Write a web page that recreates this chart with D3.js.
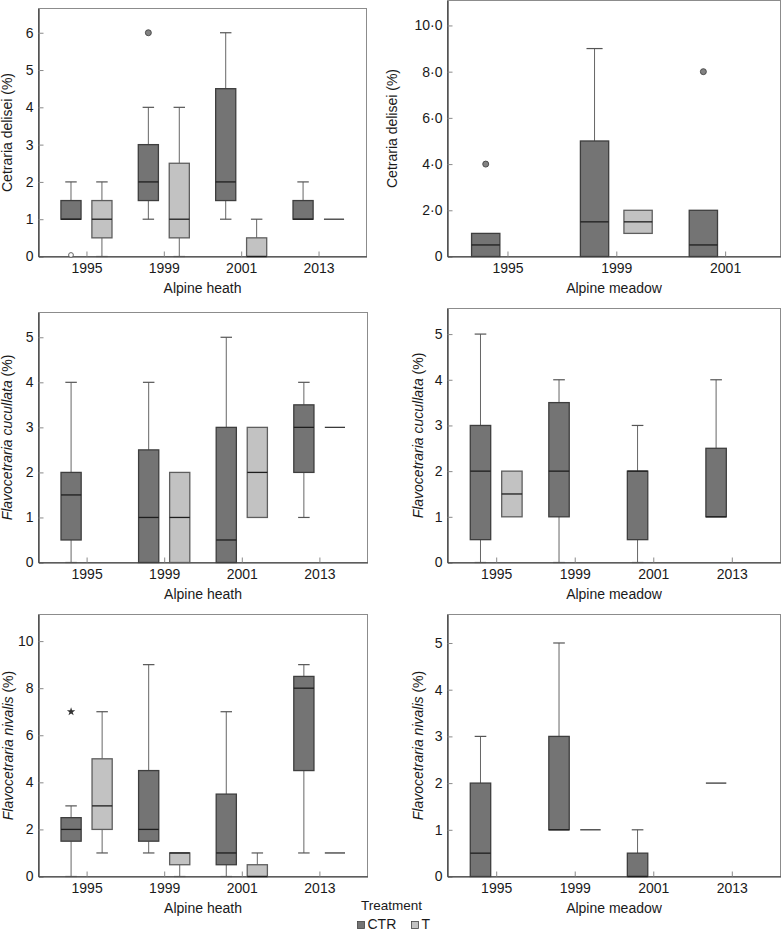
<!DOCTYPE html>
<html><head><meta charset="utf-8">
<script src="https://cdn.jsdelivr.net/npm/d3@7"></script>
<style>body{margin:0;background:#fff}svg{display:block}text{font-family:"Liberation Sans",Arial,Helvetica,sans-serif}</style>
</head><body><svg id="c" width="782" height="930"></svg>
<script>
const years4 = ["1995","1999","2001","2013"];
const years3 = ["1995","1999","2001"];
const treatments = ["CTR","T"];
// [year, treatment, lower whisker, Q1, median, Q3, upper whisker]
const heathCetraria = [
  ["1995","CTR",1,1,1,1.5,2],
  ["1995","T",0,0.5,1,1.5,2],
  ["1999","CTR",1,1.5,2,3,4],
  ["1999","T",0,0.5,1,2.5,4],
  ["2001","CTR",1,1.5,2,4.5,6],
  ["2001","T",0,0,0,0.5,1],
  ["2013","CTR",1,1,1,1.5,2],
  ["2013","T",1,1,1,1,1]
];
const heathCetrariaOut = [["1995","CTR",0,"open"],["1999","CTR",6,"dot"]];
const meadowCetraria = [
  ["1995","CTR",0,0,0.5,1,1],
  ["1999","CTR",0,0,1.5,5,9],
  ["1999","T",1,1,1.5,2,2],
  ["2001","CTR",0,0,0.5,2,2]
];
const meadowCetrariaOut = [["1995","CTR",4,"dot"],["2001","CTR",8,"dot"]];
const heathCucullata = [
  ["1995","CTR",0,0.5,1.5,2,4],
  ["1999","CTR",0,0,1,2.5,4],
  ["1999","T",0,0,1,2,2],
  ["2001","CTR",0,0,0.5,3,5],
  ["2001","T",1,1,2,3,3],
  ["2013","CTR",1,2,3,3.5,4],
  ["2013","T",3,3,3,3,3]
];
const meadowCucullata = [
  ["1995","CTR",0,0.5,2,3,5],
  ["1995","T",1,1,1.5,2,2],
  ["1999","CTR",0,1,2,3.5,4],
  ["2001","CTR",0,0.5,2,2,3],
  ["2013","CTR",1,1,1,2.5,4]
];
const heathNivalis = [
  ["1995","CTR",0,1.5,2,2.5,3],
  ["1995","T",1,2,3,5,7],
  ["1999","CTR",1,1.5,2,4.5,9],
  ["1999","T",0,0.5,1,1,1],
  ["2001","CTR",0,0.5,1,3.5,7],
  ["2001","T",0,0,0,0.5,1],
  ["2013","CTR",1,4.5,8,8.5,9],
  ["2013","T",1,1,1,1,1]
];
const heathNivalisOut = [["1995","CTR",7,"star"]];
const meadowNivalis = [
  ["1995","CTR",0,0,0.5,2,3],
  ["1999","CTR",1,1,1,3,5],
  ["1999","T",1,1,1,1,1],
  ["2001","CTR",0,0,0,0.5,1],
  ["2013","CTR",2,2,2,2,2]
];
const ticks0to6 = [0,1,2,3,4,5,6];
const ticks0to5 = [0,1,2,3,4,5];
const ticks0to10 = [0,2,4,6,8,10];
const ticksMeadowCetrariaLabels = ["0","2·0","4·0","6·0","8·0","10·0"];

const fills = {CTR:"#747474", T:"#c2c2c2"};
const strokes = {CTR:"#3e3e3e", T:"#5e5e5e"};
const svg = d3.select("#c");

const panels = [
  {x0:38.5,x1:366.5,top:8.5,bottom:256.5,ymax:6.65,cats:years4,pad:0.62,align:0.5,
   ticks:ticks0to6,labels:null,species:"Cetraria delisei",italic:false,xTitle:"Alpine heath",ytx:11.5,
   data:heathCetraria,out:heathCetrariaOut},
  {x0:447.5,x1:780.5,top:0.5,bottom:256.5,ymax:11.08,cats:years3,pad:0.53,align:0.52,
   ticks:ticks0to10,labels:ticksMeadowCetrariaLabels,species:"Cetraria delisei",italic:false,xTitle:"Alpine meadow",ytx:396.5,
   data:meadowCetraria,out:meadowCetrariaOut},
  {x0:38.5,x1:367.5,top:312.5,bottom:562.5,ymax:5.55,cats:years4,pad:0.62,align:0.5,
   ticks:ticks0to5,labels:null,species:"Flavocetraria cucullata",italic:true,xTitle:"Alpine heath",ytx:12,
   data:heathCucullata,out:[]},
  {x0:447.5,x1:780.5,top:308.5,bottom:562.5,ymax:5.56,cats:years4,pad:0.62,align:0.5,
   ticks:ticks0to5,labels:null,species:"Flavocetraria cucullata",italic:true,xTitle:"Alpine meadow",ytx:423,
   data:meadowCucullata,out:[]},
  {x0:38.5,x1:367.5,top:614.5,bottom:876.5,ymax:11.13,cats:years4,pad:0.62,align:0.5,
   ticks:ticks0to10,labels:null,species:"Flavocetraria nivalis",italic:true,xTitle:"Alpine heath",ytx:13,
   data:heathNivalis,out:heathNivalisOut},
  {x0:447.5,x1:780.5,top:614.5,bottom:876.5,ymax:5.61,cats:years4,pad:0.62,align:0.5,
   ticks:ticks0to5,labels:null,species:"Flavocetraria nivalis",italic:true,xTitle:"Alpine meadow",ytx:423,
   data:meadowNivalis,out:[]}
];

panels.forEach(p => {
  const g = svg.append("g");
  const x = d3.scalePoint().domain(p.cats).range([p.x0,p.x1]).padding(p.pad).align(p.align);
  const y = d3.scaleLinear().domain([0,p.ymax]).range([p.bottom,p.top]);
  const step = x.step();
  const bw = step*0.26, off = step*0.2, cw = bw*0.57;
  const cx = d => x(d[0]) + (d[1]==="CTR" ? -off : off);

  // frame
  g.append("rect").attr("x",p.x0).attr("y",p.top).attr("width",p.x1-p.x0).attr("height",p.bottom-p.top)
    .attr("fill","none").attr("stroke","#8c8c8c").attr("stroke-width",1);

  // axes
  const ya = g.append("g").attr("transform",`translate(${p.x0},0)`)
    .call(d3.axisLeft(y).tickValues(p.ticks).tickSize(-5).tickSizeOuter(0).tickPadding(5)
      .tickFormat((d,i) => p.labels ? p.labels[i] : String(d)));
  const xa = g.append("g").attr("transform",`translate(0,${p.bottom})`)
    .call(d3.axisBottom(x).tickSize(-5).tickSizeOuter(0).tickPadding(7));
  [ya,xa].forEach(a => {
    a.select(".domain").attr("stroke","#2e2e2e").attr("stroke-width",1.2);
    a.selectAll(".tick line").attr("stroke","#8a8a8a");
    a.selectAll(".tick text").attr("font-size",14).attr("fill","#1a1a1a")
      .attr("font-family",'"Liberation Sans",Arial,sans-serif');
  });

  // titles
  g.append("text").attr("x",(p.x0+p.x1)/2).attr("y",p.bottom+36).attr("text-anchor","middle")
    .attr("font-size",14).attr("fill","#1a1a1a").text(p.xTitle);
  const yt = g.append("text").attr("transform",`translate(${p.ytx},${(p.top+p.bottom)/2}) rotate(-90)`)
    .attr("text-anchor","middle").attr("font-size",14).attr("fill","#1a1a1a");
  yt.append("tspan").attr("font-style",p.italic?"italic":"normal").text(p.species);
  yt.append("tspan").text(" (%)");

  // whiskers
  const bx = g.append("g");
  p.data.forEach(d => {
    const c = cx(d);
    const [ , t, lo, q1, med, q3, hi] = d;
    if (hi > q3) {
      bx.append("line").attr("x1",c).attr("x2",c).attr("y1",y(q3)).attr("y2",y(hi)).attr("stroke","#666");
      bx.append("line").attr("x1",c-cw/2).attr("x2",c+cw/2).attr("y1",y(hi)).attr("y2",y(hi)).attr("stroke","#555").attr("stroke-width",1.2);
    }
    if (lo < q1) {
      bx.append("line").attr("x1",c).attr("x2",c).attr("y1",y(q1)).attr("y2",y(lo)).attr("stroke","#666");
      bx.append("line").attr("x1",c-cw/2).attr("x2",c+cw/2).attr("y1",y(lo)).attr("y2",y(lo)).attr("stroke","#555").attr("stroke-width",1.2);
    }
    if (q3 > q1) {
      bx.append("rect").attr("x",c-bw/2).attr("y",y(q3)).attr("width",bw).attr("height",y(q1)-y(q3))
        .attr("fill",fills[t]).attr("stroke",strokes[t]).attr("stroke-width",1.3);
      bx.append("line").attr("x1",c-bw/2).attr("x2",c+bw/2).attr("y1",y(med)).attr("y2",y(med))
        .attr("stroke","#1e1e1e").attr("stroke-width",1.3);
    } else {
      bx.append("line").attr("x1",c-bw/2).attr("x2",c+bw/2).attr("y1",y(med)).attr("y2",y(med))
        .attr("stroke","#3a3a3a").attr("stroke-width",1.3);
    }
  });

  // outliers
  p.out.forEach(o => {
    const c = cx(o), yy = y(o[2]);
    if (o[3]==="dot") {
      bx.append("circle").attr("cx",c).attr("cy",yy).attr("r",3).attr("fill","#828282").attr("stroke","#444").attr("stroke-width",0.9);
    } else if (o[3]==="open") {
      bx.append("circle").attr("cx",c).attr("cy",yy-1.5).attr("r",2.4).attr("fill","#fff").attr("stroke","#555").attr("stroke-width",0.9);
    } else {
      bx.append("path").attr("transform",`translate(${c},${yy})`).attr("d",d3.symbol(d3.symbolStar,22)()).attr("fill","#333");
    }
  });
});

// legend
const lg = svg.append("g");
lg.append("text").attr("x",361).attr("y",909.5).attr("font-size",13.5).attr("fill","#1a1a1a").text("Treatment");
const lx = [357.5, 411.5];
treatments.forEach((t,i) => {
  lg.append("rect").attr("x",lx[i]).attr("y",921.5).attr("width",7).attr("height",7)
    .attr("fill",fills[t]).attr("stroke","#444").attr("stroke-width",0.8);
  lg.append("text").attr("x",lx[i]+10).attr("y",928.5).attr("font-size",14).attr("fill","#1a1a1a").text(t);
});
</script></body></html>
